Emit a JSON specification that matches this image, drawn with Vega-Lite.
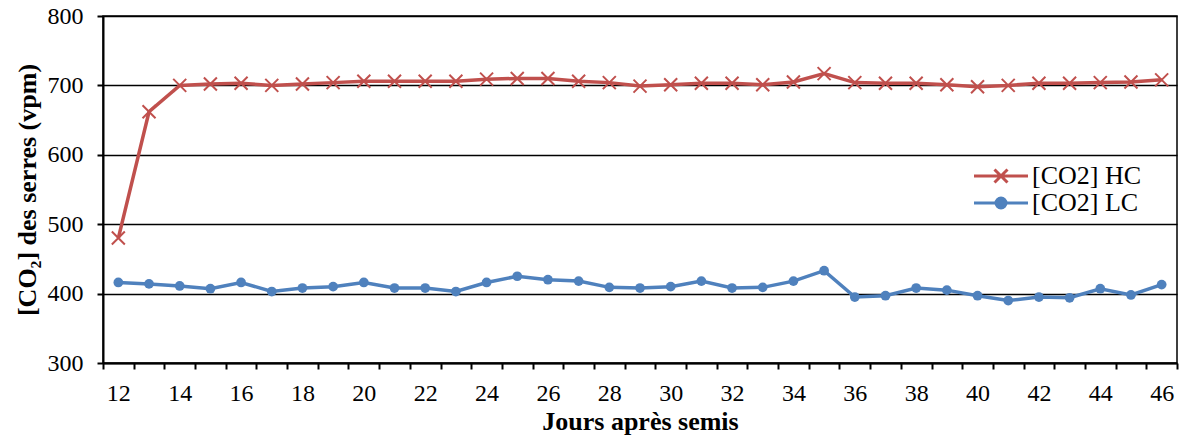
{
  "$schema": "https://vega.github.io/schema/vega-lite/v6.json",
  "width": 1074,
  "height": 347,
  "autosize": "none",
  "padding": {"left": 103, "top": 16, "right": 4, "bottom": 78},
  "background": "white",
  "config": {
    "view": {"stroke": "black", "strokeWidth": 1.5},
    "font": "Liberation Serif",
    "axis": {
      "labelFont": "Liberation Serif",
      "titleFont": "Liberation Serif",
      "labelFontSize": 24,
      "titleFontSize": 26,
      "titleFontWeight": "bold",
      "labelColor": "black",
      "titleColor": "black",
      "domainColor": "black",
      "domainWidth": 2,
      "tickColor": "black",
      "tickWidth": 2,
      "tickSize": 6
    },
    "legend": {"labelFont": "Liberation Serif", "labelFontSize": 26, "labelColor": "black"}
  },
  "data": {
    "values": [
      {"day": 12, "series": "[CO2] HC", "co2": 480},
      {"day": 13, "series": "[CO2] HC", "co2": 662},
      {"day": 14, "series": "[CO2] HC", "co2": 700},
      {"day": 15, "series": "[CO2] HC", "co2": 702},
      {"day": 16, "series": "[CO2] HC", "co2": 703},
      {"day": 17, "series": "[CO2] HC", "co2": 700},
      {"day": 18, "series": "[CO2] HC", "co2": 702},
      {"day": 19, "series": "[CO2] HC", "co2": 704},
      {"day": 20, "series": "[CO2] HC", "co2": 706},
      {"day": 21, "series": "[CO2] HC", "co2": 706},
      {"day": 22, "series": "[CO2] HC", "co2": 706},
      {"day": 23, "series": "[CO2] HC", "co2": 706},
      {"day": 24, "series": "[CO2] HC", "co2": 709},
      {"day": 25, "series": "[CO2] HC", "co2": 710},
      {"day": 26, "series": "[CO2] HC", "co2": 710},
      {"day": 27, "series": "[CO2] HC", "co2": 706},
      {"day": 28, "series": "[CO2] HC", "co2": 704},
      {"day": 29, "series": "[CO2] HC", "co2": 699},
      {"day": 30, "series": "[CO2] HC", "co2": 701},
      {"day": 31, "series": "[CO2] HC", "co2": 703},
      {"day": 32, "series": "[CO2] HC", "co2": 703},
      {"day": 33, "series": "[CO2] HC", "co2": 701},
      {"day": 34, "series": "[CO2] HC", "co2": 705},
      {"day": 35, "series": "[CO2] HC", "co2": 717},
      {"day": 36, "series": "[CO2] HC", "co2": 704},
      {"day": 37, "series": "[CO2] HC", "co2": 703},
      {"day": 38, "series": "[CO2] HC", "co2": 703},
      {"day": 39, "series": "[CO2] HC", "co2": 701},
      {"day": 40, "series": "[CO2] HC", "co2": 698},
      {"day": 41, "series": "[CO2] HC", "co2": 700},
      {"day": 42, "series": "[CO2] HC", "co2": 703},
      {"day": 43, "series": "[CO2] HC", "co2": 703},
      {"day": 44, "series": "[CO2] HC", "co2": 704},
      {"day": 45, "series": "[CO2] HC", "co2": 705},
      {"day": 46, "series": "[CO2] HC", "co2": 708},
      {"day": 12, "series": "[CO2] LC", "co2": 416},
      {"day": 13, "series": "[CO2] LC", "co2": 414},
      {"day": 14, "series": "[CO2] LC", "co2": 411},
      {"day": 15, "series": "[CO2] LC", "co2": 407},
      {"day": 16, "series": "[CO2] LC", "co2": 416},
      {"day": 17, "series": "[CO2] LC", "co2": 403},
      {"day": 18, "series": "[CO2] LC", "co2": 408},
      {"day": 19, "series": "[CO2] LC", "co2": 410},
      {"day": 20, "series": "[CO2] LC", "co2": 416},
      {"day": 21, "series": "[CO2] LC", "co2": 408},
      {"day": 22, "series": "[CO2] LC", "co2": 408},
      {"day": 23, "series": "[CO2] LC", "co2": 403},
      {"day": 24, "series": "[CO2] LC", "co2": 416},
      {"day": 25, "series": "[CO2] LC", "co2": 425},
      {"day": 26, "series": "[CO2] LC", "co2": 420},
      {"day": 27, "series": "[CO2] LC", "co2": 418},
      {"day": 28, "series": "[CO2] LC", "co2": 409},
      {"day": 29, "series": "[CO2] LC", "co2": 408},
      {"day": 30, "series": "[CO2] LC", "co2": 410},
      {"day": 31, "series": "[CO2] LC", "co2": 418},
      {"day": 32, "series": "[CO2] LC", "co2": 408},
      {"day": 33, "series": "[CO2] LC", "co2": 409},
      {"day": 34, "series": "[CO2] LC", "co2": 418},
      {"day": 35, "series": "[CO2] LC", "co2": 433},
      {"day": 36, "series": "[CO2] LC", "co2": 395},
      {"day": 37, "series": "[CO2] LC", "co2": 397},
      {"day": 38, "series": "[CO2] LC", "co2": 408},
      {"day": 39, "series": "[CO2] LC", "co2": 405},
      {"day": 40, "series": "[CO2] LC", "co2": 397},
      {"day": 41, "series": "[CO2] LC", "co2": 390},
      {"day": 42, "series": "[CO2] LC", "co2": 395},
      {"day": 43, "series": "[CO2] LC", "co2": 394},
      {"day": 44, "series": "[CO2] LC", "co2": 407},
      {"day": 45, "series": "[CO2] LC", "co2": 398},
      {"day": 46, "series": "[CO2] LC", "co2": 413}
    ]
  },
  "encoding": {
    "x": {
      "field": "day",
      "type": "ordinal",
      "scale": {"type": "band", "paddingInner": 0, "paddingOuter": 0},
      "axis": {
        "title": "Jours après semis",
        "labelAngle": 0,
        "tickBand": "extent",
        "labelExpr": "datum.value % 2 == 0 ? datum.label : ''",
        "labelPadding": 12,
        "titlePadding": 3,
        "grid": false
      }
    },
    "y": {
      "field": "co2",
      "type": "quantitative",
      "scale": {"domain": [300, 800], "nice": false, "zero": false},
      "axis": {
        "title": "[CO₂] des serres (vpm)",
        "values": [300, 400, 500, 600, 700, 800],
        "grid": true,
        "gridColor": "black",
        "gridWidth": 1.5,
        "gridOpacity": 1,
        "labelPadding": 14,
        "titlePadding": 7
      }
    },
    "color": {
      "field": "series",
      "type": "nominal",
      "scale": {"domain": ["[CO2] HC", "[CO2] LC"], "range": ["#C0504D", "#4F81BD"]},
      "legend": {
        "title": null,
        "orient": "none",
        "legendX": 885,
        "legendY": 147,
        "padding": 0,
        "symbolSize": 400,
        "labelOffset": 18,
        "rowPadding": 1,
        "encode": {
          "symbols": {
            "update": {
              "shape": {"signal": "datum.value === '[CO2] HC' ? 'M-2.7,0L2.7,0M-0.65,-0.65L0.65,0.65M-0.65,0.65L0.65,-0.65' : 'M-2.7,0L2.7,0M-0.5,0A0.5,0.5 0 1,0 0.5,0A0.5,0.5 0 1,0 -0.5,0Z'"},
              "stroke": {"scale": "color", "field": "value"},
              "fill": {"scale": "color", "field": "value"},
              "strokeWidth": {"value": 3},
              "opacity": {"value": 1},
              "fillOpacity": {"value": 1}
            }
          }
        }
      }
    }
  },
  "layer": [
    {"mark": {"type": "line", "strokeWidth": 3.5}},
    {
      "transform": [{"filter": "datum.series === '[CO2] HC'"}],
      "mark": {"type": "point", "filled": false, "opacity": 1, "strokeWidth": 2, "size": 169, "shape": "M-1,-1L1,1M-1,1L1,-1"}
    },
    {
      "transform": [{"filter": "datum.series === '[CO2] LC'"}],
      "mark": {"type": "point", "filled": true, "opacity": 1, "size": 95, "shape": "circle"}
    }
  ]
}
